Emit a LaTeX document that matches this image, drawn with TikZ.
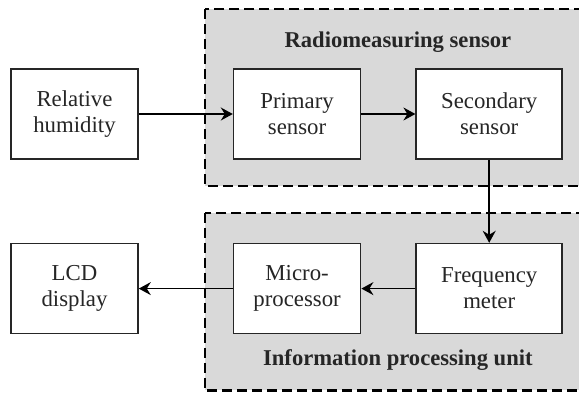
\documentclass[tikz,border=0pt]{standalone}
\usepackage{fontspec}
\setmainfont{Liberation Serif}
\newfontfamily\labelfont{Liberation Serif}
\usetikzlibrary{positioning,calc,backgrounds,arrows.meta}

\begin{document}
\begin{tikzpicture}[
    font=\labelfont\fontsize{11.4}{13}\selectfont,
    text=black!85,
    block_style/.style={draw=black!85, fill=white, rectangle, line width=0.8pt, minimum width=63.5pt, minimum height=45pt, inner sep=2pt, align=center},
    wide_style/.style={block_style, minimum width=73pt},
    group_style/.style={draw=black, fill=gray!30, line width=1.2pt, dash pattern=on 5pt off 2.5pt},
    title_style/.style={font=\labelfont\fontsize{11.3}{13}\selectfont\bfseries},
    arrow_style/.style={line width=0.8pt, -{Stealth[length=6pt, width=6.5pt, inset=2pt]}}
]

\useasboundingbox (0,0) rectangle (289.5pt,-196pt);

\node[block_style] (humid) at (37.25pt,-57pt) {Relative\\humidity};
\node[block_style, right=47pt of humid] (primary) {Primary\\sensor};
\node[wide_style, right=27pt of primary] (secondary) {Secondary\\sensor};
\node[wide_style, below=41.5pt of secondary] (freq) {Frequency\\meter};
\node[block_style, left=27pt of freq] (micro) {Micro-\\processor};
\node[block_style, left=47pt of micro] (lcd) {LCD\\display};

% dashed groups, open to the right
\begin{scope}[on background layer]
\draw[group_style] ($(primary.north west)+(-14pt,29.5pt)$) rectangle ($(secondary.south east)+(30pt,-13pt)$);
\draw[group_style] ($(micro.north west)+(-14pt,15pt)$) rectangle ($(freq.south east)+(30pt,-28pt)$);
\end{scope}

\node[title_style] (radio_title) at ($(primary.west)!0.5!(secondary.east)+(0,36pt)$) {Radiomeasuring sensor};
\node[title_style] (info_title) at ($(micro.west)!0.5!(freq.east)+(0,-35.5pt)$) {Information processing unit};

\draw[arrow_style] (humid) -- (primary);
\draw[arrow_style] (primary) -- (secondary);
\draw[arrow_style] (secondary) -- (freq);
\draw[arrow_style] (freq) -- (micro);
\draw[arrow_style] (micro) -- (lcd);

\end{tikzpicture}
\end{document}
